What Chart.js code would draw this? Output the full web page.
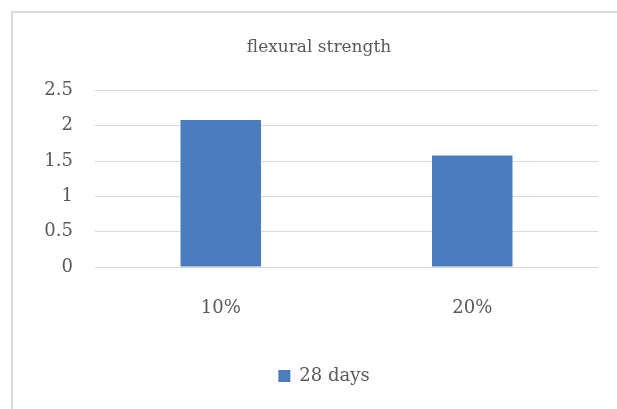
<!DOCTYPE html>
<html>
<head>
<meta charset="utf-8">
<script src="https://cdn.jsdelivr.net/npm/chart.js@4/dist/chart.umd.min.js"></script>
<style>
  html, body { margin: 0; padding: 0; background: #fff; overflow: hidden; }
  #wrap { position: relative; width: 617px; height: 409px; overflow: hidden; }
  #box { position: absolute; left: 0; top: 0; width: 654px; height: 409px; }
</style>
</head>
<body>
<div id="wrap"><div id="box"><canvas id="c"></canvas></div></div>
<script>
const categories = ['10%', '20%'];
const seriesLabel = '28 days';
const strength28 = [2.08, 1.58];
const yTicks = [0, 0.5, 1, 1.5, 2, 2.5];

const textGray = '#595959';
const barBlue = '#4A7CBE';
const serif = 'DejaVu Serif';

// light frame along the top and left edges of the chart area
const framePlugin = {
  id: 'frame',
  afterLayout(chart) {
    // nudge the legend a little to the right of the title's centre line
    if (chart.legend) {
      chart.legend.left += 5;
      chart.legend.right += 5;
    }
  },
  beforeDraw(chart) {
    const ctx = chart.ctx;
    ctx.save();
    ctx.fillStyle = '#ffffff';
    ctx.fillRect(0, 0, chart.width, chart.height);
    ctx.strokeStyle = '#d9d9d9';
    ctx.lineWidth = 2;
    ctx.beginPath();
    ctx.moveTo(12, chart.height);
    ctx.lineTo(12, 12);
    ctx.lineTo(chart.width, 12);
    ctx.stroke();
    ctx.restore();
  }
};

new Chart(document.getElementById('c'), {
  type: 'bar',
  data: {
    labels: categories,
    datasets: [{
      label: seriesLabel,
      data: strength28,
      backgroundColor: barBlue,
      borderWidth: 0,
      barPercentage: 0.64,
      categoryPercentage: 0.5
    }]
  },
  options: {
    responsive: true,
    maintainAspectRatio: false,
    animation: false,
    layout: { padding: { left: 40, right: 56, top: 0, bottom: 14 } },
    scales: {
      x: {
        afterFit(scale) { scale.height = 90; },
        grid: { display: false, drawTicks: false },
        border: { display: false },
        ticks: { color: textGray, font: { family: serif, size: 18 }, padding: 31 }
      },
      y: {
        min: 0, max: 2.5,
        afterFit(scale) { scale.width = 55; },
        afterBuildTicks(scale) { scale.ticks = yTicks.map(v => ({ value: v })); },
        grid: { color: '#d9d9d9', lineWidth: 1, drawTicks: false },
        border: { display: false },
        ticks: {
          color: textGray,
          font: { family: serif, size: 18 },
          padding: 22,
          callback: v => String(v)
        }
      }
    },
    plugins: {
      title: {
        display: true,
        text: 'flexural strength',
        color: textGray,
        font: { family: serif, size: 17, weight: 'normal' },
        padding: { top: 37, bottom: 33 }
      },
      legend: {
        position: 'bottom',
        labels: {
          color: textGray,
          font: { family: serif, size: 18 },
          boxWidth: 12, boxHeight: 12,
          padding: 10
        }
      },
      tooltip: { enabled: false }
    }
  },
  plugins: [framePlugin]
});
</script>
</body>
</html>
